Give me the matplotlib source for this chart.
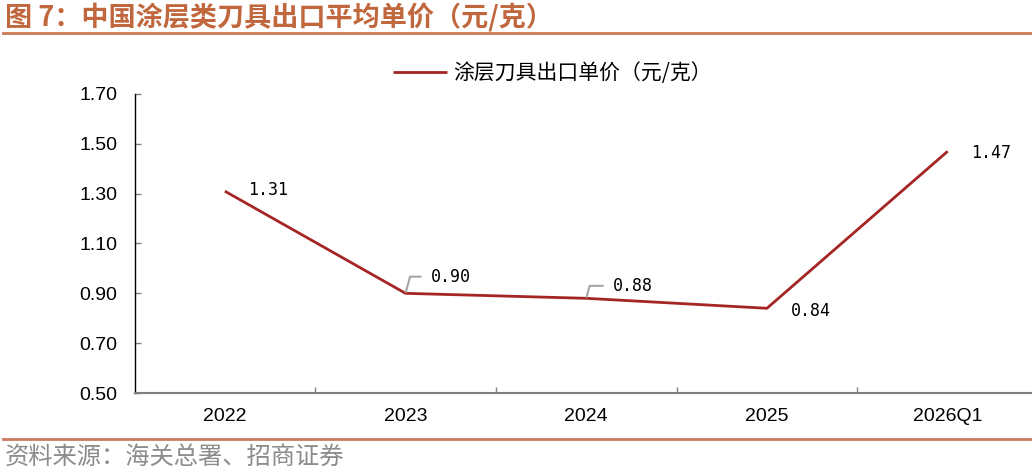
import matplotlib
matplotlib.use("Agg")
import matplotlib.pyplot as plt
from matplotlib.lines import Line2D
from matplotlib.ticker import FixedLocator

plt.rcParams['font.family'] = ['Noto Sans CJK SC', 'DejaVu Sans']

categories = ["2022", "2023", "2024", "2025", "2026Q1"]
values = [1.31, 0.90, 0.88, 0.84, 1.47]
value_labels = ["1.31", "0.90", "0.88", "0.84", "1.47"]
yticks = [0.50, 0.70, 0.90, 1.10, 1.30, 1.50, 1.70]
ytick_labels = ["0.50", "0.70", "0.90", "1.10", "1.30", "1.50", "1.70"]
series_name = "涂层刀具出口单价（元/克）"
title = "图 7：中国涂层类刀具出口平均单价（元/克）"
source = "资料来源：海关总署、招商证券"

W, H = 1032, 473
fig = plt.figure(figsize=(W / 100, H / 100), dpi=100)
ax = fig.add_axes([134.5 / W, (H - 393) / H, (1038 - 134.5) / W, 299 / H])

x = list(range(len(categories)))
line_color = "#A52524"
ax.plot(x, values, color=line_color, lw=2.0, label=series_name, solid_capstyle="butt")

ax.set_xlim(-0.5, len(categories) - 0.5)
ax.set_ylim(0.5, 1.7)
ax.set_yticks(yticks)
ax.set_yticklabels(ytick_labels, family="Liberation Sans", fontsize=14)
ax.set_xticks(x)
ax.set_xticklabels(categories, family="Liberation Sans", fontsize=14)
ax.xaxis.set_minor_locator(FixedLocator([i + 0.5 for i in x[:-1]]))
ax.tick_params(axis="x", which="major", length=0, pad=10.5)
ax.tick_params(axis="x", which="minor", direction="in", length=4, color="#808080", width=1)
ax.tick_params(axis="y", direction="in", length=4.5, color="#808080", width=1, pad=12.5)

for s in ["top", "right"]:
    ax.spines[s].set_visible(False)
ax.spines["left"].set_color("#000000")
ax.spines["left"].set_linewidth(1)
ax.spines["bottom"].set_color("#808080")
ax.spines["bottom"].set_linewidth(1.5)

# data labels
offsets = [(17, 1), (18, 12), (19, 9), (17, -2), (17, -1)]
leaders = [False, True, True, False, False]
for i, (v, lab) in enumerate(zip(values, value_labels)):
    kw = {}
    if leaders[i]:
        kw["arrowprops"] = dict(arrowstyle="-", color="#A6A6A6", lw=1.5,
                                connectionstyle="angle,angleA=0,angleB=75,rad=0",
                                shrinkA=5, shrinkB=1, relpos=(0, 0.5))
    ax.annotate(lab, xy=(i, v), xytext=offsets[i], textcoords="offset points",
                ha="left", va="center", fontsize=12, family="DejaVu Sans Mono",
                color="#000000", **kw)

leg = ax.legend(loc="center left", bbox_to_anchor=(393 / W, 1 - 73 / H),
                bbox_transform=fig.transFigure, frameon=False, fontsize=15,
                handlelength=2.6, handletextpad=0.3, borderpad=0, borderaxespad=0)

title_color = "#C0673D"
fig.text(5 / W, 1 - 17 / H, title, fontsize=19.5, fontweight="bold", color=title_color,
         ha="left", va="center")
fig.add_artist(Line2D([3 / W, 1.0], [1 - 33 / H] * 2, transform=fig.transFigure,
                      color="#CC7A55", lw=2))
fig.add_artist(Line2D([3 / W, 1.0], [1 - 439 / H] * 2, transform=fig.transFigure,
                      color="#CC7A60", lw=2))
fig.text(5 / W, 1 - 457 / H, source, fontsize=17.5, color="#8C8C8C",
         ha="left", va="center")

fig.savefig("out.png", dpi=100)
